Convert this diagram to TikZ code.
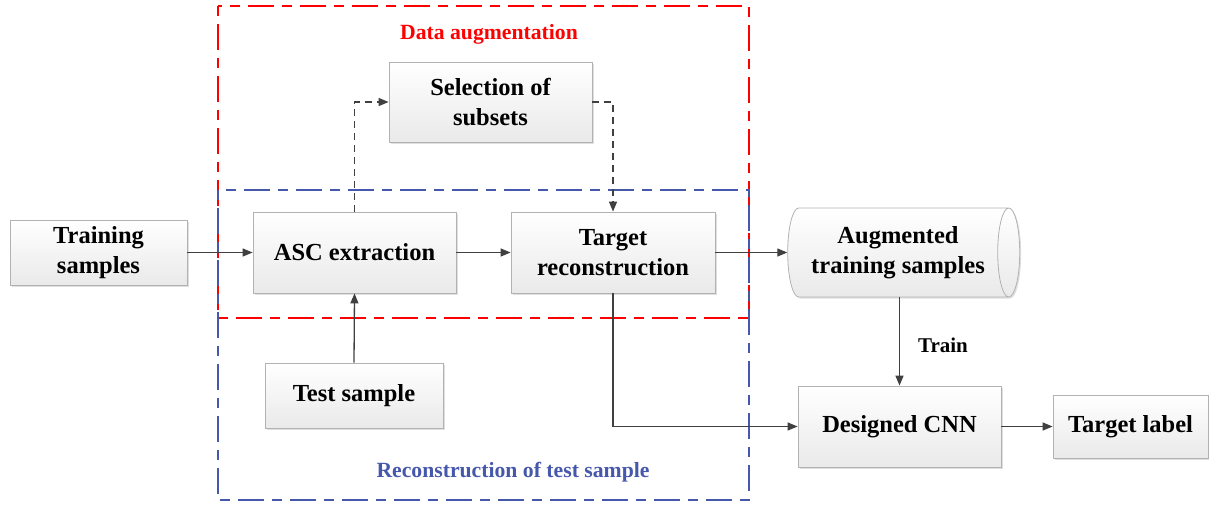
\documentclass[tikz,border=0pt]{standalone}
\usepackage{fontspec}
\setmainfont{Liberation Serif}
\usetikzlibrary{arrows.meta,shapes.geometric,shadows}
\definecolor{lnc}{RGB}{64,64,64}
\definecolor{frblue}{RGB}{70,88,172}
\definecolor{frred}{RGB}{255,0,0}
\tikzset{
  boxnode/.style={draw=gray!60, line width=0.8pt, top color=white, bottom color=gray!17,
    inner sep=0pt, align=center, font=\fontsize{24.5}{30}\selectfont\bfseries,
    drop shadow={opacity=0.25, shadow xshift=1.5pt, shadow yshift=-1.5pt}},
  arr/.style={draw=lnc, line width=1.3pt, -{Triangle[length=10pt,width=8pt]}},
  darr/.style={arr, dash pattern=on 7pt off 5pt},
  frame/.style={line width=2pt, dash pattern=on 10pt off 8pt on 26pt off 8pt},
  framelabel/.style={font=\fontsize{21.7}{26}\selectfont\bfseries},
}
\newcommand{\dn}[1]{\raisebox{-2.5pt}{\begin{tabular}{@{}c@{}}#1\end{tabular}}}
\begin{document}
\begin{tikzpicture}[x=1pt,y=-1pt]
\useasboundingbox (0,0) rectangle (1209,504);
% frames
\draw[frame, draw=frred] (218,6) rectangle (749,318);
\draw[frame, draw=frblue] (218,190) rectangle (749,500);
\node[framelabel, text=frred] (dalab) at (489,34) {Data augmentation};
\node[framelabel, text=frblue] (rclab) at (513,472) {Reconstruction of test sample};
% nodes
\node[boxnode, minimum width=177, minimum height=65] (train) at (98.5,252.5) {Training\\samples};
\node[boxnode, minimum width=203, minimum height=81] (asc) at (354.5,252.5) {ASC extraction};
\node[boxnode, minimum width=204, minimum height=81] (recon) at (613,252.5) {Target\\reconstruction};
\node[boxnode, minimum width=203, minimum height=80] (sel) at (490.5,102) {Selection of\\subsets};
\node[boxnode, minimum width=178, minimum height=65] (test) at (354,395.5) {Test sample};
\node[boxnode, shape=cylinder, shape aspect=0.42, minimum height=232, minimum width=89] (aug) at (898,252.5) {Augmented\\training samples};
\node[boxnode, minimum width=203, minimum height=81] (cnn) at (899.5,426.5) {Designed CNN};
\node[boxnode, minimum width=155, minimum height=63] (lab) at (1130.5,426.5) {Target label};
\node[font=\fontsize{21}{25}\selectfont\bfseries] (trainlab) at (943,345) {Train};
% connectors
\draw[arr] (train.east) -- (asc.west);
\draw[arr] (asc.east) -- (recon.west);
\draw[arr] (recon.east) -- (aug.west);
\draw[darr] (asc.north) |- (sel.west);
\draw[darr] (sel.east) -| (recon.north);
\draw[arr] (test.north) -- (asc.south);
\draw[arr] (recon.south) |- (cnn.west);
\draw[arr] (aug.south -| cnn.north) -- (cnn.north);
\draw[arr] (cnn.east) -- (lab.west);
\end{tikzpicture}
\end{document}
